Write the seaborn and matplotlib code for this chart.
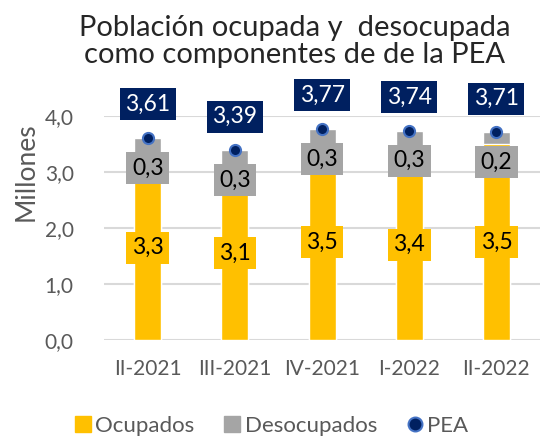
import matplotlib
matplotlib.use("Agg")
import matplotlib.pyplot as plt
import seaborn as sns
import pandas as pd
from matplotlib.lines import Line2D
from matplotlib.ticker import FuncFormatter

periodos = ["II-2021", "III-2021", "IV-2021", "I-2022", "II-2022"]
ocupados = [3.3, 3.1, 3.5, 3.4, 3.5]
desocupados = [0.3, 0.3, 0.3, 0.3, 0.2]
pea = [3.61, 3.39, 3.77, 3.74, 3.71]

YELLOW = "#FFC000"
GRAY = "#A5A5A5"
NAVY = "#002060"
EDGE = "#4472C4"
TXT = "#595959"

sns.set_theme(style="white")
plt.rcParams["font.family"] = ["Lato", "DejaVu Sans"]

df = pd.DataFrame({"periodo": periodos, "ocupados": ocupados,
                   "desocupados": desocupados, "pea": pea})

fig = plt.figure(figsize=(5.4, 4.41), dpi=100)
ax = fig.add_axes([0.193, 0.229, 0.807, 0.508])

sns.barplot(data=df, x="periodo", y="pea", color=GRAY, width=0.31,
            saturation=1, ax=ax, zorder=2)
sns.barplot(data=df, x="periodo", y="ocupados", color=YELLOW, width=0.31,
            saturation=1, ax=ax, zorder=3)
ax.plot(range(len(periodos)), pea, linestyle="none", marker="o", ms=8,
        mfc=NAVY, mec=EDGE, mew=1.5, zorder=6, clip_on=False)

fmt = lambda v, d: f"{v:.{d}f}".replace(".", ",")
fs = 16.5
bx = dict(boxstyle="square,pad=0.24", ec="none")
for i in range(len(periodos)):
    ax.text(i, ocupados[i] / 2, fmt(ocupados[i], 1), ha="center", va="center",
            fontsize=fs, color="black", zorder=7, bbox=dict(bx, fc=YELLOW))
    ax.text(i, pea[i] - 0.54, fmt(desocupados[i], 1), ha="center", va="center",
            fontsize=fs, color="black", zorder=7, bbox=dict(bx, fc=GRAY))
    ax.text(i, pea[i] + 0.6, fmt(pea[i], 2), ha="center", va="center",
            fontsize=fs, color="white", zorder=7, clip_on=False,
            bbox=dict(bx, fc=NAVY))

ax.set_ylim(0, 4.0)
ax.set_xlim(-0.5, 4.5)
ax.set_yticks([0, 1, 2, 3, 4])
ax.yaxis.set_major_formatter(FuncFormatter(lambda v, p: fmt(v, 1)))
ax.grid(axis="y", color="#D9D9D9", lw=1.5, zorder=0)
ax.set_axisbelow(True)
for s in ax.spines.values():
    s.set_visible(False)
ax.tick_params(axis="both", length=0, labelsize=15, colors=TXT)
ax.tick_params(axis="x", pad=14)
ax.tick_params(axis="y", pad=22)
ax.set_xlabel("")
ax.set_ylabel("Millones", fontsize=19, color=TXT)
ax.yaxis.set_label_coords(-0.15, 0.75)

fig.text(0.545, 0.965, "Población ocupada y  desocupada\ncomo componentes de de la PEA",
         ha="center", va="top", fontsize=21, color="#262626", linespacing=1.05)

handles = [
    Line2D([], [], linestyle="none", marker="s", ms=11, mfc=YELLOW, mec=YELLOW),
    Line2D([], [], linestyle="none", marker="s", ms=11, mfc=GRAY, mec=GRAY),
    Line2D([], [], linestyle="none", marker="o", ms=10, mfc=NAVY, mec=EDGE, mew=1.5),
]
fig.legend(handles, ["Ocupados", "Desocupados", "PEA"], loc="center",
           bbox_to_anchor=(0.5, 0.035), ncol=3, frameon=False, fontsize=16,
           handletextpad=0.05, columnspacing=1.2, labelcolor=TXT,
           handlelength=1.0)

fig.savefig("out.png", dpi=100)
